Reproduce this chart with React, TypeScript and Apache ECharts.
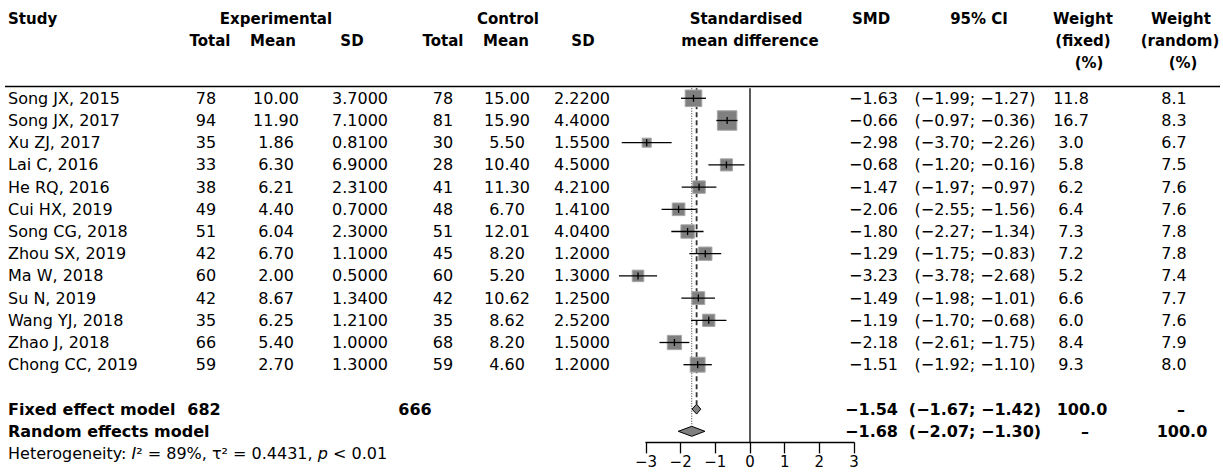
import React, { useEffect, useRef } from "react";
import * as echarts from "echarts";

const studies = [
  "Song JX, 2015", "Song JX, 2017", "Xu ZJ, 2017", "Lai C, 2016", "He RQ, 2016",
  "Cui HX, 2019", "Song CG, 2018", "Zhou SX, 2019", "Ma W, 2018", "Su N, 2019",
  "Wang YJ, 2018", "Zhao J, 2018", "Chong CC, 2019",
];
const expTotal = [78, 94, 35, 33, 38, 49, 51, 42, 60, 42, 35, 66, 59];
const expMean = [10.0, 11.9, 1.86, 6.3, 6.21, 4.4, 6.04, 6.7, 2.0, 8.67, 6.25, 5.4, 2.7];
const expSD = [3.7, 7.1, 0.81, 6.9, 2.31, 0.7, 2.3, 1.1, 0.5, 1.34, 1.21, 1.0, 1.3];
const ctrlTotal = [78, 81, 30, 28, 41, 48, 51, 45, 60, 42, 35, 68, 59];
const ctrlMean = [15.0, 15.9, 5.5, 10.4, 11.3, 6.7, 12.01, 8.2, 5.2, 10.62, 8.62, 8.2, 4.6];
const ctrlSD = [2.22, 4.4, 1.55, 4.5, 4.21, 1.41, 4.04, 1.2, 1.3, 1.25, 2.52, 1.5, 1.2];
const smd = [-1.63, -0.66, -2.98, -0.68, -1.47, -2.06, -1.8, -1.29, -3.23, -1.49, -1.19, -2.18, -1.51];
const ciLow = [-1.99, -0.97, -3.7, -1.2, -1.97, -2.55, -2.27, -1.75, -3.78, -1.98, -1.7, -2.61, -1.92];
const ciHigh = [-1.27, -0.36, -2.26, -0.16, -0.97, -1.56, -1.34, -0.83, -2.68, -1.01, -0.68, -1.75, -1.1];
const weightFixed = [11.8, 16.7, 3.0, 5.8, 6.2, 6.4, 7.3, 7.2, 5.2, 6.6, 6.0, 8.4, 9.3];
const weightRandom = [8.1, 8.3, 6.7, 7.5, 7.6, 7.6, 7.8, 7.8, 7.4, 7.7, 7.6, 7.9, 8.0];

const summaryNames = ["Fixed effect model", "Random effects model"];
const summaryEst = [-1.54, -1.68];
const summaryLow = [-1.67, -2.07];
const summaryHigh = [-1.42, -1.3];
const summaryRows = [14, 15];
const pooledTotals = [682, 666];
const xTicks = [-3, -2, -1, 0, 1, 2, 3];

const FONT = '"DejaVu Sans", sans-serif';
const FS = 16;
const HFS = 15;
const ROW0 = 98.3;
const ROWH = 22.2;
const rowY = (i: number) => ROW0 + ROWH * i;

const minus = (s: string) => s.replace(/-/g, "\u2212");
const f2 = (v: number) => minus(v.toFixed(2));

function txt(text: string, x: number, y: number, align = "center", bold = false, size = FS): any {
  return {
    type: "text",
    silent: true,
    style: {
      text,
      x,
      y,
      font: `${bold ? "bold " : ""}${size}px ${FONT}`,
      fill: "#000",
      textAlign: align,
      textVerticalAlign: "middle",
    },
  };
}
const hdr = (text: string, x: number, y: number, align = "center") => txt(text, x, y, align, true, HFS);

export default function App() {
  const ref = useRef<HTMLDivElement>(null);
  useEffect(() => {
    const chart = echarts.init(ref.current!, null, { renderer: "svg" });
    const g: any[] = [];
    // headers
    const H1 = 19, H2 = 41, H3 = 63;
    g.push(hdr("Study", 8, H1, "left"));
    g.push(hdr("Experimental", 276, H1));
    g.push(hdr("Total", 210, H2));
    g.push(hdr("Mean", 273, H2));
    g.push(hdr("SD", 352, H2));
    g.push(hdr("Control", 508, H1));
    g.push(hdr("Total", 443, H2));
    g.push(hdr("Mean", 506, H2));
    g.push(hdr("SD", 583, H2));
    g.push(hdr("Standardised", 746, H1));
    g.push(hdr("mean difference", 750, H2));
    g.push(hdr("SMD", 871, H1));
    g.push(hdr("95% CI", 979, H1));
    g.push(hdr("Weight", 1083, H1));
    g.push(hdr("(fixed)", 1083, H2));
    g.push(hdr("(%)", 1089, H3));
    g.push(hdr("Weight", 1181, H1));
    g.push(hdr("(random)", 1180, H2));
    g.push(hdr("(%)", 1183, H3));
    g.push({
      type: "line",
      silent: true,
      shape: { x1: 5, y1: 86.5, x2: 1220, y2: 86.5 },
      style: { stroke: "#000", lineWidth: 1.5 },
    });
    studies.forEach((s, i) => {
      const y = rowY(i);
      g.push(txt(s, 8, y, "left"));
      g.push(txt(String(expTotal[i]), 206, y));
      g.push(txt(expMean[i].toFixed(2), 276, y));
      g.push(txt(expSD[i].toFixed(4), 360, y));
      g.push(txt(String(ctrlTotal[i]), 443, y));
      g.push(txt(ctrlMean[i].toFixed(2), 507, y));
      g.push(txt(ctrlSD[i].toFixed(4), 582, y));
      g.push(txt(f2(smd[i]), 898, y, "right"));
      g.push(txt(`(${f2(ciLow[i])}; ${f2(ciHigh[i])})`, 975, y));
      g.push(txt(weightFixed[i].toFixed(1), 1071, y));
      g.push(txt(weightRandom[i].toFixed(1), 1174, y));
    });
    summaryNames.forEach((name, k) => {
      const y = rowY(summaryRows[k]);
      g.push(txt(name, 8, y, "left", true));
      g.push(txt(f2(summaryEst[k]), 898, y, "right", true));
      g.push(txt(`(${f2(summaryLow[k])}; ${f2(summaryHigh[k])})`, 975, y, "center", true));
    });
    const yF = rowY(summaryRows[0]);
    const yR = rowY(summaryRows[1]);
    g.push(txt(String(pooledTotals[0]), 204, yF, "center", true));
    g.push(txt(String(pooledTotals[1]), 415, yF, "center", true));
    g.push(txt("100.0", 1082, yF, "center", true));
    g.push(txt("\u2013", 1181, yF, "center", true));
    g.push(txt("\u2013", 1085, yR, "center", true));
    g.push(txt("100.0", 1182, yR, "center", true));
    g.push({
      type: "text",
      silent: true,
      style: {
        x: 8,
        y: rowY(16),
        text: "{n|Heterogeneity: }{i|I}{n|\u00b2 = 89%, \u03c4\u00b2 = 0.4431, }{i|p}{n| < 0.01}",
        textVerticalAlign: "middle",
        rich: {
          n: { fontFamily: FONT, fontSize: FS, fill: "#000" },
          i: { fontFamily: FONT, fontSize: FS, fontStyle: "italic", fill: "#000" },
        },
      },
    });

    const studyData = studies.map((_, i) => [i, smd[i], ciLow[i], ciHigh[i], weightFixed[i]]);
    const diamondData = summaryEst.map((e, k) => [summaryRows[k], e, summaryLow[k], summaryHigh[k]]);
    const refData = [
      [0, 15.5, 0],
      [summaryEst[0], summaryRows[0], 1],
      [summaryEst[1], summaryRows[1], 2],
    ];

    chart.setOption({
      animation: false,
      backgroundColor: "#fff",
      graphic: g,
      grid: { left: 646, right: 369, top: 87.2, bottom: 32.6, containLabel: false },
      xAxis: {
        type: "value",
        min: -3,
        max: 3,
        interval: 1,
        splitLine: { show: false },
        axisLine: { show: true, onZero: false, lineStyle: { color: "#000", width: 1.3 } },
        axisTick: { show: true, length: 11, lineStyle: { color: "#000", width: 1.3 } },
        axisLabel: {
          color: "#000",
          fontFamily: FONT,
          fontSize: 15,
          margin: 12,
          formatter: (v: number) => (xTicks.includes(v) ? minus(String(v)) : ""),
        },
      },
      yAxis: { type: "value", inverse: true, min: -0.5, max: 15.5, show: false },
      series: [
        {
          type: "custom",
          clip: false,
          data: refData,
          renderItem: (params: any, api: any) => {
            const x = api.value(0);
            const yEnd = api.value(1);
            const kind = api.value(2);
            const top = api.coord([x, -0.5]);
            const bot = api.coord([x, yEnd]);
            let y2 = bot[1];
            let style: any = { stroke: "#000", lineWidth: 1.3 };
            if (kind === 1) {
              y2 = bot[1] - 5;
              style = { stroke: "#333", lineWidth: 1.8, lineDash: [5, 3] };
            } else if (kind === 2) {
              y2 = bot[1] - 5.5;
              style = { stroke: "#333", lineWidth: 1, lineDash: [1, 1.5] };
            }
            return {
              type: "line",
              shape: { x1: top[0], y1: top[1] + 1, x2: bot[0], y2 },
              style,
            };
          },
        },
        {
          type: "custom",
          clip: false,
          data: studyData,
          renderItem: (params: any, api: any) => {
            const y = api.value(0);
            const pE = api.coord([api.value(1), y]);
            const pL = api.coord([api.value(2), y]);
            const pH = api.coord([api.value(3), y]);
            const s = 4.4 * Math.sqrt(api.value(4)) + 1.5;
            return {
              type: "group",
              children: [
                {
                  type: "rect",
                  shape: { x: pE[0] - s / 2, y: pE[1] - s / 2, width: s, height: s },
                  style: { fill: "#808080", stroke: "#a6a6a6", lineWidth: 1 },
                },
                {
                  type: "line",
                  shape: { x1: pL[0], y1: pL[1], x2: pH[0], y2: pH[1] },
                  style: { stroke: "#000", lineWidth: 1.3 },
                },
                {
                  type: "line",
                  shape: { x1: pE[0], y1: pE[1] - 3.5, x2: pE[0], y2: pE[1] + 3.5 },
                  style: { stroke: "#000", lineWidth: 1.3 },
                },
              ],
            };
          },
        },
        {
          type: "custom",
          clip: false,
          data: diamondData,
          renderItem: (params: any, api: any) => {
            const y = api.value(0);
            const pE = api.coord([api.value(1), y]);
            const pL = api.coord([api.value(2), y]);
            const pH = api.coord([api.value(3), y]);
            const h = 5;
            return {
              type: "polygon",
              shape: {
                points: [
                  [pL[0], pL[1]],
                  [pE[0], pE[1] - h],
                  [pH[0], pH[1]],
                  [pE[0], pE[1] + h],
                ],
              },
              style: { fill: "#808080", stroke: "#000", lineWidth: 1 },
            };
          },
        },
      ],
    });
    return () => chart.dispose();
  }, []);
  return (
    <div
      ref={ref}
      style={{ position: "fixed", left: 0, top: 0, width: 1223, height: 475, background: "#fff" }}
    />
  );
}
